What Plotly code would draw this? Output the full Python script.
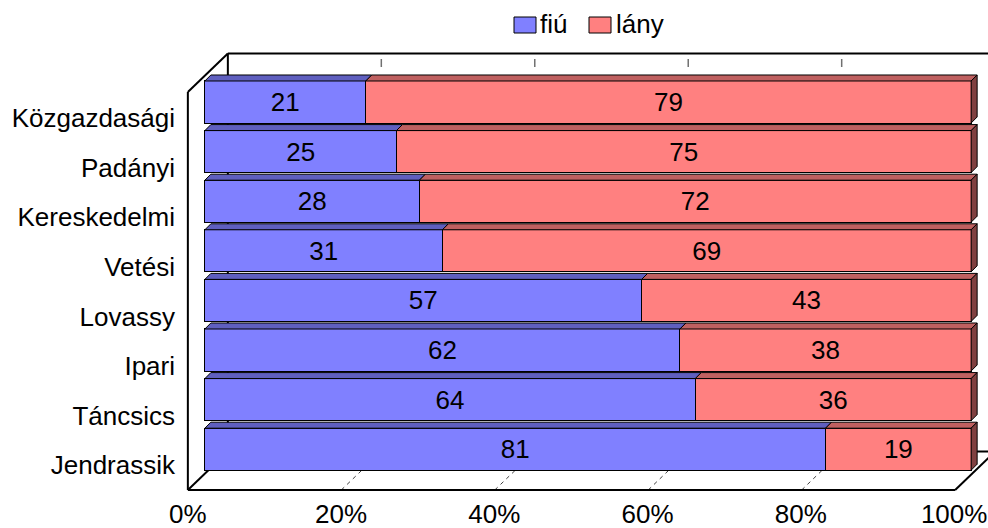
import plotly.graph_objects as go

# ---------------------------------------------------------------------------
# Data
# ---------------------------------------------------------------------------

schools = ["Jendrassik", "Táncsics", "Ipari", "Lovassy",
           "Vetési", "Kereskedelmi", "Padányi", "Közgazdasági"]
fiu = [81, 64, 62, 57, 31, 28, 25, 21]
lany = [19, 36, 38, 43, 69, 72, 75, 79]
series_names = ["fiú", "lány"]
x_ticks = [0, 20, 40, 60, 80, 100]

# ---------------------------------------------------------------------------
# Styling / geometry
# ---------------------------------------------------------------------------

FONT = "Liberation Sans, Arial, sans-serif"
FS = 26
BLUE, BLUE_TOP = "#8080FF", "#5F5FBF"
RED, RED_TOP, RED_SIDE = "#FF8080", "#BF6060", "#804040"

W, H = 988, 528
ML, MR, MT, MB = 188, 0, 58, 36
XR = [-2.2, 102.2]
YR = [-0.863, 7.887]
BAR_W = 0.847

PW = W - ML - MR
PH = H - MT - MB
PX_X = PW / (XR[1] - XR[0])   # pixels per percent
PX_Y = PH / (YR[1] - YR[0])   # pixels per category

D_BAR = 6                      # bar depth in pixels
DDX, DDY = D_BAR / PX_X, D_BAR / PX_Y

# floor / wall in pixels
DX, DY = 40, 38.5
SHIFT = 17


def xpx(v):
    return ML + (v - XR[0]) * PX_X


def px_x(p):
    return (p - ML) / PW


def px_y(p):
    return (H - MB - p) / PH


FX0 = xpx(0) - SHIFT
FX1 = xpx(100) - SHIFT + 1
FY = 490
WALL_TOP = 92


def pline(x0, y0, x1, y1, color="black", width=2, dash=None, layer="below"):
    return dict(type="line", xref="paper", yref="paper",
                x0=px_x(x0), y0=px_y(y0), x1=px_x(x1), y1=px_y(y1),
                line=dict(color=color, width=width, dash=dash), layer=layer)


ypos = list(range(len(schools)))

fig = go.Figure()
fig.add_trace(go.Bar(
    y=ypos, x=fiu, orientation="h", width=BAR_W, name=series_names[0],
    marker=dict(color=BLUE, line=dict(color="black", width=1)),
    text=fiu, textposition="inside", insidetextanchor="middle",
    textfont=dict(size=FS, color="black", family=FONT), textangle=0,
))
fig.add_trace(go.Bar(
    y=ypos, x=lany, base=fiu, orientation="h", width=BAR_W, name=series_names[1],
    marker=dict(color=RED, line=dict(color="black", width=1)),
    text=lany, textposition="inside", insidetextanchor="middle",
    textfont=dict(size=FS, color="black", family=FONT), textangle=0,
))

shapes = []

# back wall gridlines (only the stub above the top bar shows)
for t in x_ticks[1:-1]:
    gx = FX0 + t / 100 * (FX1 - FX0) + DX
    shapes.append(pline(gx, 59, gx, 67, color="#707070", width=1.5))
# floor gridlines
for t in x_ticks[1:-1]:
    gx = FX0 + t / 100 * (FX1 - FX0)
    shapes.append(pline(gx, FY, gx + DX, FY - DY, color="#404040", width=1, dash="4px,4px"))

# frame: back wall, left wall, floor
bx0, bx1 = FX0 + DX, FX1 + DX
shapes += [
    pline(bx0, WALL_TOP - DY, bx1, WALL_TOP - DY),
    pline(bx0, WALL_TOP - DY, bx0, FY - DY),
    pline(bx0, FY - DY, bx1, FY - DY),
    pline(FX0, WALL_TOP, bx0, WALL_TOP - DY),
    pline(FX0, WALL_TOP, FX0, FY),
    pline(FX0, FY, FX1, FY),
    pline(FX0, FY, bx0, FY - DY),
    pline(FX1, FY, bx1, FY - DY),
]

# 3D faces of the bars
for i, (a, b) in enumerate(zip(fiu, lany)):
    top = i + BAR_W / 2
    bot = i - BAR_W / 2
    for x0, x1, col in [(0, a, BLUE_TOP), (a, a + b, RED_TOP)]:
        shapes.append(dict(
            type="path", xref="x", yref="y", layer="above",
            path=f"M {x0},{top} L {x1},{top} L {x1 + DDX},{top + DDY} L {x0 + DDX},{top + DDY} Z",
            fillcolor=col, line=dict(color="black", width=1),
        ))
    end = a + b
    shapes.append(dict(
        type="path", xref="x", yref="y", layer="above",
        path=f"M {end},{bot} L {end},{top} L {end + DDX},{top + DDY} L {end + DDX},{bot + DDY} Z",
        fillcolor=RED_SIDE, line=dict(color="black", width=1),
    ))

# legend
annotations = []
for (bx, tx), name, col in zip([(514, 538), (589, 614)], series_names, [BLUE, RED]):
    shapes.append(dict(type="rect", xref="paper", yref="paper",
                       x0=px_x(bx), x1=px_x(bx + 22), y0=px_y(17), y1=px_y(33),
                       fillcolor=col, line=dict(color="black", width=1)))
    annotations.append(dict(xref="paper", yref="paper", x=px_x(tx), y=px_y(24),
                            text=name, showarrow=False, xanchor="left", yanchor="middle",
                            font=dict(size=FS, color="black", family=FONT)))

fig.update_layout(
    width=W, height=H,
    margin=dict(l=ML, r=MR, t=MT, b=MB, autoexpand=False),
    barmode="stack",
    showlegend=False,
    paper_bgcolor="white", plot_bgcolor="white",
    font=dict(family=FONT, size=FS, color="black"),
    shapes=shapes, annotations=annotations,
)
fig.update_xaxes(
    range=XR, tickvals=x_ticks, ticktext=[f"{t}%" for t in x_ticks],
    showgrid=False, zeroline=False, showline=False, ticks="",
    ticklabelshift=-SHIFT, ticklabelstandoff=4, automargin=False,
)
fig.update_yaxes(
    range=YR, tickvals=ypos, ticktext=schools,
    showgrid=False, zeroline=False, showline=False, ticks="",
    ticklabelshift=16, ticklabelstandoff=12, automargin=False,
)

# the page's default body margin would push the chart off by 8px
fig.write_html("out.html", config={"displayModeBar": False},
               post_script="document.body.style.margin='0px';")
